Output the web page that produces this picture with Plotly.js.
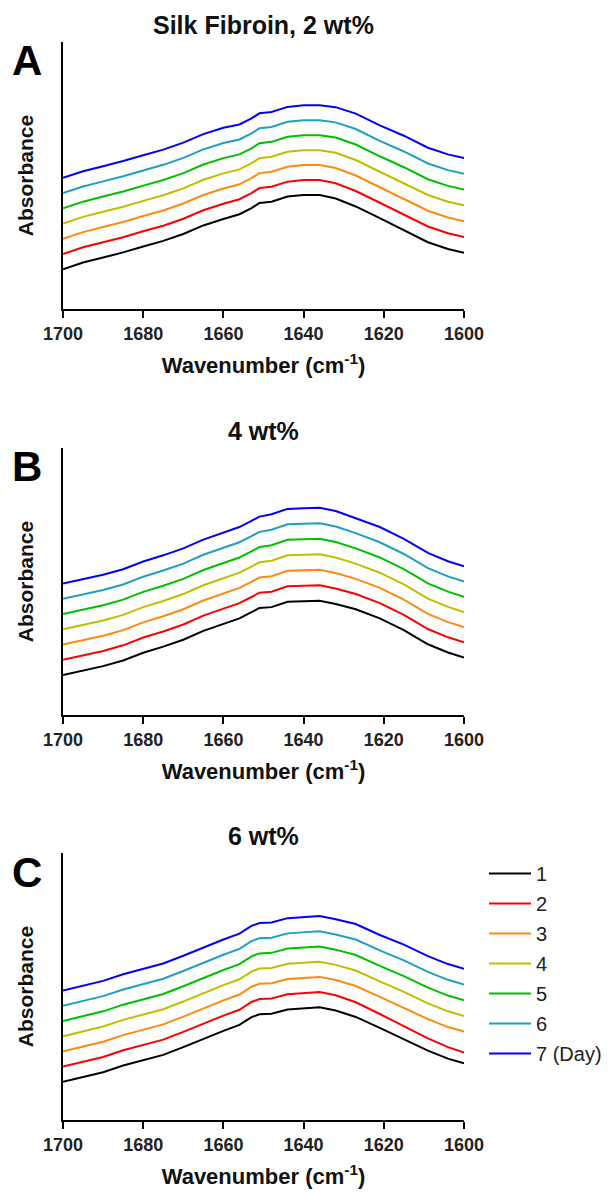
<!DOCTYPE html>
<html>
<head>
<meta charset="utf-8">
<script src="https://cdn.plot.ly/plotly-3.0.1.min.js"></script>
<style>html,body{margin:0;padding:0;background:#fff;}#chart{width:612px;height:1193px;}</style>
</head>
<body>
<div id="chart"></div>
<script>
// Wavenumber grid (cm-1)
const wavenumber = [1700,1695,1690,1685,1680,1675,1670,1665,1660,1656,1653,1651,1648,1644,1640,1636,1632,1627,1621,1615,1609,1604,1600];
const dayNames = ["1","2","3","4","5","6","7 (Day)"];
const dayColors = ["#000000","#ff0000","#ff8a10","#bfbf00","#00c000","#20a0c0","#0000ff"];
const panelTitles = ["Silk Fibroin, 2 wt%","4 wt%","6 wt%"];
const panelLetters = ["A","B","C"];
const xTicks = [1700,1680,1660,1640,1620,1600];

// Panel A: 2 wt% (absorbance, offset-stacked, arbitrary units)
const a_day1 = [0.149,0.174,0.193,0.212,0.234,0.255,0.281,0.313,0.337,0.355,0.378,0.397,0.402,0.421,0.427,0.427,0.414,0.384,0.340,0.295,0.250,0.225,0.211];
const a_day2 = [0.206,0.231,0.250,0.269,0.291,0.312,0.338,0.370,0.394,0.411,0.434,0.453,0.458,0.477,0.483,0.483,0.471,0.442,0.398,0.354,0.309,0.284,0.270];
const a_day3 = [0.263,0.288,0.307,0.326,0.348,0.369,0.395,0.427,0.451,0.467,0.490,0.509,0.514,0.533,0.539,0.539,0.528,0.500,0.456,0.413,0.368,0.343,0.329];
const a_day4 = [0.320,0.345,0.364,0.383,0.405,0.426,0.452,0.484,0.508,0.523,0.546,0.565,0.570,0.589,0.595,0.595,0.585,0.558,0.514,0.472,0.427,0.402,0.388];
const a_day5 = [0.377,0.402,0.421,0.440,0.462,0.483,0.509,0.541,0.565,0.579,0.602,0.621,0.626,0.645,0.651,0.651,0.642,0.616,0.572,0.531,0.486,0.461,0.447];
const a_day6 = [0.434,0.459,0.478,0.497,0.519,0.540,0.566,0.598,0.622,0.635,0.658,0.677,0.682,0.701,0.707,0.707,0.699,0.674,0.630,0.590,0.545,0.520,0.506];
const a_day7 = [0.491,0.516,0.535,0.554,0.576,0.597,0.623,0.655,0.679,0.691,0.714,0.733,0.738,0.757,0.763,0.763,0.756,0.732,0.688,0.649,0.604,0.579,0.565];

// Panel B: 4 wt%
const b_day1 = [0.150,0.166,0.183,0.204,0.233,0.256,0.282,0.315,0.340,0.362,0.385,0.401,0.404,0.424,0.426,0.428,0.416,0.396,0.362,0.318,0.265,0.234,0.215];
const b_day2 = [0.207,0.223,0.240,0.261,0.290,0.313,0.339,0.372,0.397,0.419,0.442,0.458,0.462,0.482,0.484,0.486,0.474,0.453,0.419,0.375,0.322,0.291,0.272];
const b_day3 = [0.264,0.280,0.297,0.318,0.347,0.370,0.396,0.429,0.454,0.476,0.499,0.515,0.520,0.540,0.542,0.544,0.532,0.510,0.476,0.432,0.379,0.348,0.329];
const b_day4 = [0.321,0.337,0.354,0.375,0.404,0.427,0.453,0.486,0.511,0.533,0.556,0.572,0.578,0.598,0.600,0.602,0.590,0.567,0.533,0.489,0.436,0.405,0.386];
const b_day5 = [0.378,0.394,0.411,0.432,0.461,0.484,0.510,0.543,0.568,0.590,0.613,0.629,0.636,0.656,0.658,0.660,0.648,0.624,0.590,0.546,0.493,0.462,0.443];
const b_day6 = [0.435,0.451,0.468,0.489,0.518,0.541,0.567,0.600,0.625,0.647,0.670,0.686,0.694,0.714,0.716,0.718,0.706,0.681,0.647,0.603,0.550,0.519,0.500];
const b_day7 = [0.492,0.508,0.525,0.546,0.575,0.598,0.624,0.657,0.682,0.704,0.727,0.743,0.752,0.772,0.774,0.776,0.764,0.738,0.704,0.660,0.607,0.576,0.557];

// Panel C: 6 wt%
const c_day1 = [0.143,0.160,0.179,0.204,0.223,0.244,0.273,0.305,0.334,0.356,0.385,0.396,0.398,0.414,0.419,0.422,0.410,0.386,0.345,0.303,0.260,0.230,0.212];
const c_day2 = [0.200,0.217,0.236,0.261,0.280,0.301,0.330,0.362,0.391,0.413,0.442,0.453,0.455,0.471,0.476,0.479,0.467,0.441,0.397,0.352,0.306,0.273,0.253];
const c_day3 = [0.257,0.274,0.293,0.318,0.337,0.358,0.387,0.419,0.448,0.470,0.499,0.510,0.512,0.528,0.533,0.536,0.524,0.502,0.461,0.421,0.378,0.348,0.331];
const c_day4 = [0.314,0.331,0.350,0.375,0.394,0.415,0.444,0.476,0.505,0.527,0.556,0.567,0.569,0.585,0.590,0.593,0.581,0.560,0.519,0.480,0.437,0.407,0.389];
const c_day5 = [0.371,0.388,0.407,0.432,0.451,0.472,0.501,0.533,0.562,0.584,0.613,0.624,0.626,0.642,0.647,0.650,0.638,0.618,0.577,0.539,0.496,0.466,0.448];
const c_day6 = [0.428,0.445,0.464,0.489,0.508,0.529,0.558,0.590,0.619,0.641,0.670,0.681,0.683,0.699,0.704,0.707,0.695,0.676,0.635,0.598,0.555,0.525,0.507];
const c_day7 = [0.485,0.502,0.521,0.546,0.565,0.586,0.615,0.647,0.676,0.698,0.727,0.738,0.740,0.756,0.761,0.764,0.752,0.734,0.693,0.657,0.614,0.584,0.566];

const panels = [
  [a_day1,a_day2,a_day3,a_day4,a_day5,a_day6,a_day7],
  [b_day1,b_day2,b_day3,b_day4,b_day5,b_day6,b_day7],
  [c_day1,c_day2,c_day3,c_day4,c_day5,c_day6,c_day7]
];

const W = 612, H = 1193;
const plotLeft = 63, plotRight = 464;
const panelTops = [42, 448, 853];
const panelHeight = 267;
const FONT = "Liberation Sans, Arial, sans-serif";

const traces = [];
panels.forEach((series, p) => {
  const sfx = p === 0 ? "" : String(p + 1);
  series.forEach((ys, k) => {
    traces.push({
      type: "scatter", mode: "lines",
      x: wavenumber, y: ys,
      xaxis: "x" + sfx, yaxis: "y" + sfx,
      name: dayNames[k],
      legendgroup: "g" + k,
      showlegend: p === 2,
      line: {color: dayColors[k], width: 2},
      hoverinfo: "skip"
    });
  });
});

const layout = {
  width: W, height: H,
  margin: {l: 0, r: 0, t: 0, b: 0},
  paper_bgcolor: "#ffffff", plot_bgcolor: "#ffffff",
  font: {family: FONT, color: "#000"},
  showlegend: true,
  legend: {
    x: 484 / W, y: 1 - 854 / H, xanchor: "left", yanchor: "top",
    font: {family: FONT, size: 20, color: "#222"},
    traceorder: "grouped", tracegroupgap: 1,
    bgcolor: "rgba(0,0,0,0)", itemwidth: 42
  },
  annotations: [],
  shapes: []
};

panelTops.forEach((top, p) => {
  const sfx = p === 0 ? "" : String(p + 1);
  const yDom = [1 - (top + panelHeight) / H, 1 - top / H];
  layout["xaxis" + sfx] = {
    domain: [plotLeft / W, plotRight / W],
    anchor: "y" + sfx,
    range: [1700, 1600],
    tickvals: xTicks,
    ticktext: xTicks.map(String),
    ticks: "outside", ticklen: 7, tickwidth: 2, tickcolor: "#000",
    showline: true, linewidth: 2, linecolor: "#000",
    showgrid: false, zeroline: false,
    tickfont: {family: FONT, size: 18, weight: "bold", color: "#222"},
    title: {text: "Wavenumber (cm<sup>-1</sup>)", font: {family: FONT, size: 22, weight: "bold", color: "#111"}, standoff: 15},
    automargin: false, fixedrange: true
  };
  layout["yaxis" + sfx] = {
    domain: yDom,
    anchor: "x" + sfx,
    range: [0, 1],
    showticklabels: false, ticks: "",
    showline: true, linewidth: 2, linecolor: "#000",
    showgrid: false, zeroline: false,
    title: {text: "Absorbance", font: {family: FONT, size: 21, weight: "bold", color: "#111"}, standoff: 22},
    automargin: false, fixedrange: true
  };
  layout.annotations.push({
    xref: "paper", yref: "paper",
    x: (plotLeft + plotRight) / 2 / W, y: 1 - (top - 17) / H,
    xanchor: "center", yanchor: "middle", showarrow: false,
    text: panelTitles[p],
    font: {family: FONT, size: 25, weight: "bold", color: "#111"}
  });
  layout.annotations.push({
    xref: "paper", yref: "paper",
    x: 27 / W, y: 1 - (top + 19) / H,
    xanchor: "center", yanchor: "middle", showarrow: false,
    text: panelLetters[p],
    font: {family: FONT, size: 42, weight: "bold", color: "#000"}
  });
});

Plotly.newPlot("chart", traces, layout, {staticPlot: true, displayModeBar: false});
</script>
</body>
</html>
